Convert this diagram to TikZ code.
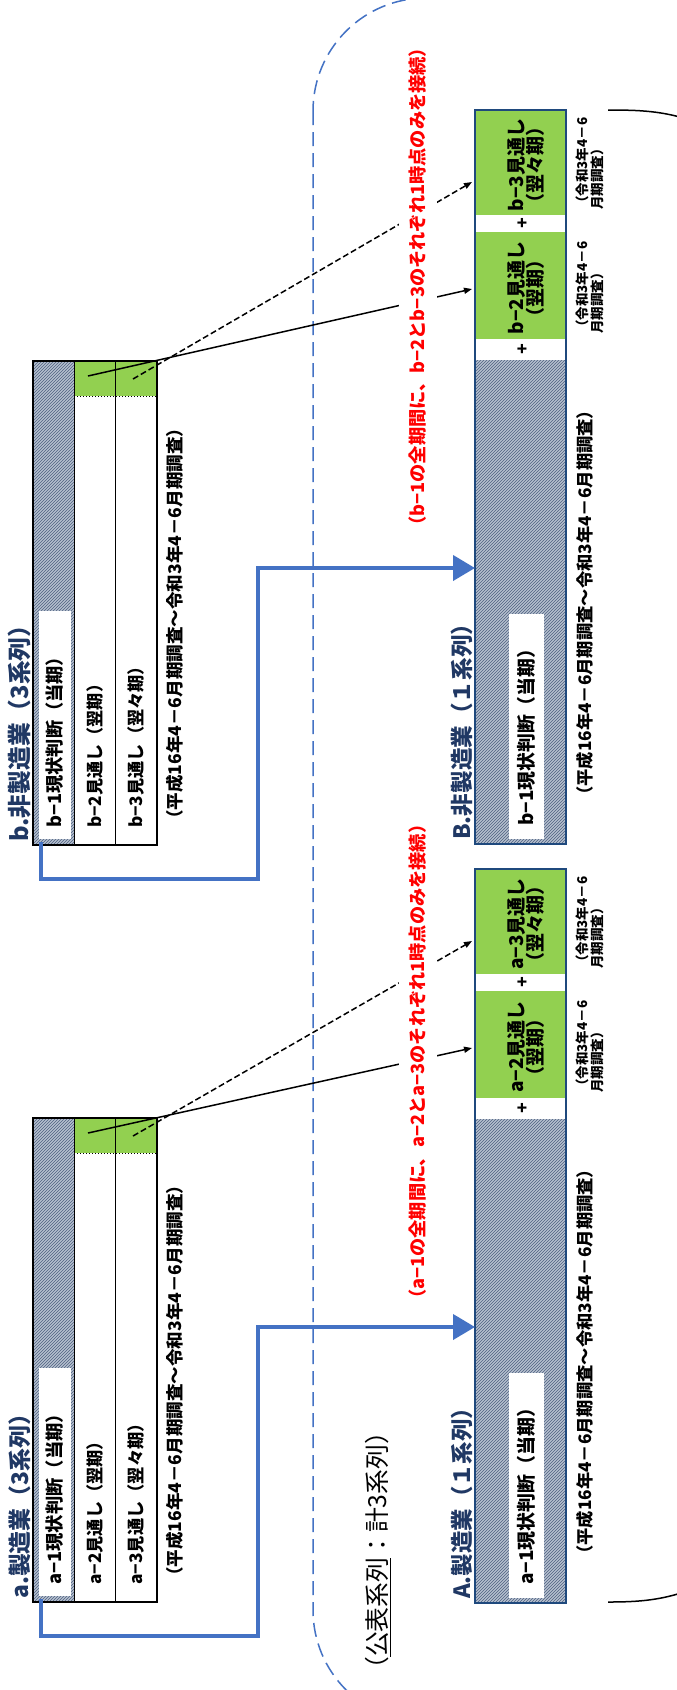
\documentclass[tikz,border=0pt]{standalone}
\usepackage{graphicx}
\usepackage{fontspec}
\setmainfont{Noto Sans CJK JP}
\usetikzlibrary{arrows.meta,patterns}
\definecolor{grn}{RGB}{146,208,80}
\definecolor{hbg}{RGB}{182,192,207}
\definecolor{hfg}{RGB}{78,96,128}
\definecolor{navy}{RGB}{32,56,100}
\definecolor{blu}{RGB}{68,114,196}
\definecolor{bxb}{RGB}{31,73,125}
\newcommand\fitto[2]{\resizebox{#1pt}{!}{#2}}
\tikzset{
  hatchfill/.style={fill=hbg, postaction={pattern=north east lines, pattern color=hfg}},
  tabtxt/.style={rotate=90, anchor=west, inner sep=0pt, font=\bfseries\fontsize{17.5}{19}\selectfont},
  tabttl/.style={rotate=90, anchor=west, inner sep=0pt, text=navy, font=\bfseries\fontsize{22}{24}\selectfont},
  grnlbl/.style={rotate=90, align=center, inner sep=0pt, font=\bfseries\fontsize{19}{17.5}\selectfont},
  smallcap/.style={rotate=90, anchor=west, align=left, inner sep=0pt, font=\bfseries\fontsize{13.5}{15}\selectfont},
  plussign/.style={inner sep=0pt, font=\bfseries\fontsize{17}{17}\selectfont},
  redtxt/.style={rotate=90, anchor=west, fill=white, text=red, inner xsep=2pt, inner ysep=10pt, font=\bfseries\fontsize{18.5}{20}\selectfont},
  blk/.style={line width=1.5pt, -{Triangle[length=8pt,width=6pt]}},
  blkd/.style={line width=1.5pt, dash pattern=on 6pt off 3pt, -{Triangle[length=8pt,width=6pt]}},
  bluecon/.style={line width=4pt, draw=blu, -{Triangle[length=22pt,width=25pt]}},
  outl/.style={draw=blu, line width=1.5pt, dash pattern=on 14pt off 7pt, rounded corners=113pt},
  bracepath/.style={line width=1.5pt}
}
% #1 top, #2 letter, #3 title, #4 name, #5 title length
\newcommand\srctbl[5]{%
  \pgfmathsetmacro\tT{#1}\pgfmathsetmacro\tB{#1+484}\pgfmathsetmacro\tG{#1+35}%
  \pgfmathsetmacro\tL{#1+250}\pgfmathsetmacro\tLb{#1+478}\pgfmathsetmacro\tS{#1+467}%
  \fill[hatchfill] (33,\tT) rectangle (74,\tB);
  \fill[white] (39,\tL) rectangle (71,\tLb);
  \fill[grn] (74,\tT) rectangle (157,\tG);
  \draw[line width=1pt] (74,\tT) -- (74,\tB) (115,\tT) -- (115,\tB);
  \draw[dotted, line width=1pt] (74,\tG) -- (157,\tG);
  \draw[line width=1.5pt] (33,\tT) rectangle (157,\tB);
  \node[tabtxt] (#4-1) at (55,\tS) {\fitto{180}{#2−1現状判断（当期）}};
  \node[tabtxt] (#4-2) at (94.5,\tS) {\fitto{152}{#2−2見通し（翌期）}};
  \node[tabtxt] (#4-3) at (136,\tS) {\fitto{170}{#2−3見通し（翌々期）}};
  \node[tabtxt] (#4-cap) at (175,\tS) {\fitto{408}{（平成16年4－6月期調査～令和3年4－6月期調査）}};
  \node[tabttl] (#4-title) at (20,\tB-3) {\fitto{#5}{#3}};
  \coordinate (#4-s1) at (88,\tT+15);
  \coordinate (#4-s2) at (133,\tT+18);
  \coordinate (#4-out) at (41,\tB-3);
  \coordinate (#4-bend) at (258,\tB+34);
}
% #1 top, #2 letter, #3 title, #4 name, #5 title length
\newcommand\pubbox[5]{%
  \pgfmathsetmacro\pT{#1}%
  \fill[grn] (476,\pT) rectangle (565,\pT+105);
  \fill[grn] (476,\pT+122) rectangle (565,\pT+229);
  \fill[hatchfill] (476,\pT+250) rectangle (565,\pT+734);
  \fill[white] (509,\pT+504) rectangle (544,\pT+729);
  \draw[draw=bxb, line width=2pt] (475,\pT) rectangle (566,\pT+734);
  \node[grnlbl] (#4-g3) at (526,\pT+55) {#2−3見通し\\（翌々期）};
  \node[grnlbl] (#4-g2) at (526,\pT+178) {#2−2見通し\\（翌期）};
  \node[plussign] (#4-p1) at (522,\pT+113.5) {+};
  \node[plussign] (#4-p2) at (522,\pT+239.5) {+};
  \node[tabtxt] (#4-1) at (526,\pT+716) {\fitto{186}{#2−1現状判断（当期）}};
  \node[smallcap] (#4-c3) at (589.5,\pT+100) {（令和3年4－6\\月期調査）};
  \node[smallcap] (#4-c2) at (589.5,\pT+224) {（令和3年4－6\\月期調査）};
  \node[tabtxt] (#4-cap) at (585,\pT+694) {\fitto{402}{（平成16年4－6月期調査～令和3年4－6月期調査）}};
  \node[tabttl] (#4-title) at (462,\pT+730) {\fitto{#5}{#3}};
  \coordinate (#4-in) at (475,\pT+458);
  \coordinate (#4-t2) at (472,\pT+179);
  \coordinate (#4-t3) at (472,\pT+72);
}
\begin{document}
\begin{tikzpicture}[x=1pt,y=-1pt]
\useasboundingbox (0,0) rectangle (677,1690);
\fill[white] (0,0) rectangle (677,1690);
\begin{scope}
  \clip (0,0) rectangle (677,1690);
  \draw[outl] (313,-2) rectangle (1000,1723);
  \draw[bracepath] (608,110) .. controls (640,110) and (662,111) .. (690,120);
  \draw[bracepath] (608,1602) .. controls (640,1602) and (662,1600) .. (690,1590);
\end{scope}
\srctbl{361}{b}{b.非製造業（3系列）}{b}{228}
\srctbl{1118}{a}{a.製造業（3系列）}{a}{196}
\pubbox{110}{b}{B.非製造業（１系列）}{B}{227}
\pubbox{869}{a}{A.製造業（１系列）}{A}{202}
% connectors
\draw[blk] (a-s1) -- (A-t2);
\draw[blkd] (a-s2) -- (A-t3);
\draw[blk] (b-s1) -- (B-t2);
\draw[blkd] (b-s2) -- (B-t3);
\draw[bluecon] (a-out) |- (a-bend) |- (A-in);
\draw[bluecon] (b-out) |- (b-bend) |- (B-in);
\node[redtxt] (A-note) at (418,1310) {\fitto{492}{（a−1の全期間に、a−2とa−3のそれぞれ1時点のみを接続）}};
\node[redtxt] (B-note) at (418,537) {\fitto{496}{（b−1の全期間に、b−2とb−3のそれぞれ1時点のみを接続）}};
\node[rotate=90, anchor=west, inner sep=0pt, font=\fontsize{24}{26}\selectfont] (pub) at (378,1682) {\fitto{262}{（\underline{公表系列}：計3系列）}};
\end{tikzpicture}
\end{document}
